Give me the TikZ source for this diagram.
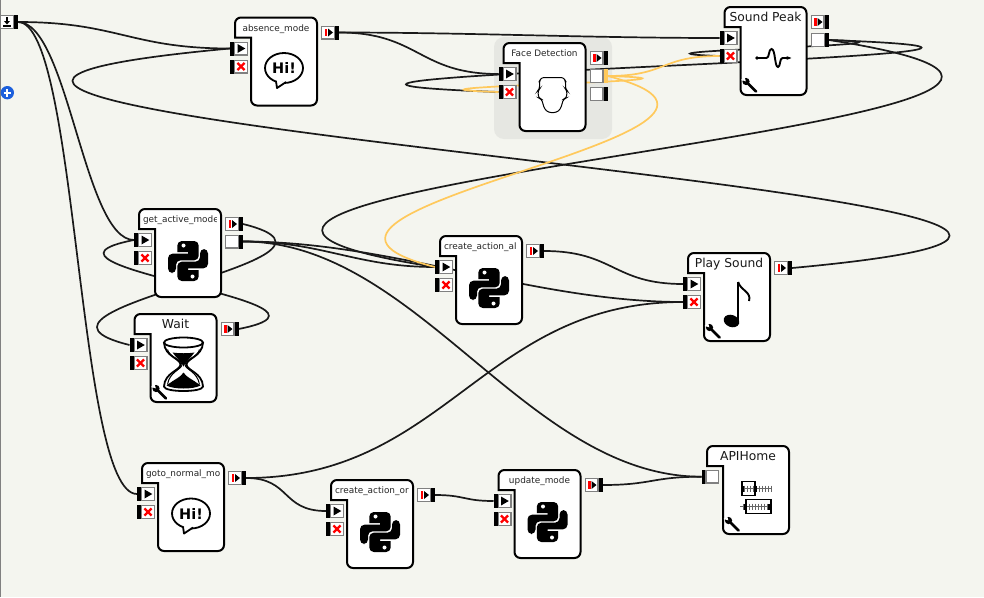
\documentclass[tikz,border=0pt]{standalone}
\usepackage{fontspec}
\setmainfont{DejaVu Sans}
\usetikzlibrary{backgrounds}
\usetikzlibrary{arrows.meta}
\usetikzlibrary{calc}

\definecolor{canvascol}{HTML}{F4F5EF}
\definecolor{groupcol}{HTML}{E6E7E2}
\definecolor{portgrey}{HTML}{808080}
\definecolor{wirecol}{HTML}{1A1A1A}
\definecolor{orangecol}{HTML}{FFC95C}
\definecolor{pluscol}{HTML}{1C5FDC}

\pgfdeclarelayer{wires}
\pgfsetlayers{background,wires,main}

\tikzset{
  wire/.style={draw=wirecol, line width=1.7pt},
  orangewire/.style={draw=orangecol, line width=1.7pt},
  blocline/.style={draw=black, fill=white, line width=2pt},
  smalltitle/.style={font=\fontsize{8.9}{10}\selectfont, text=black!85, text height=7, text depth=2, inner sep=0pt},
  cuttitle/.style={smalltitle, anchor=west, xshift=-37.2pt},
  bigtitle/.style={font=\fontsize{12.3}{14}\selectfont, text=black!90, text height=9, text depth=3, inner sep=0pt},
  barnode/.style={fill=black, minimum width=4, minimum height=14, inner sep=0pt, outer sep=0pt},
  portbox/.style={draw=portgrey, fill=white, line width=1.4pt, minimum size=12.6, inner sep=0pt},
  playglyph/.style={path picture={
    \fill[black] (path picture bounding box.center) ++(-3.5,-4.5) -- ++(7.8,4.5) -- ++(-7.8,4.5) -- cycle;}},
  errglyph/.style={path picture={
    \draw[red, line width=2.4pt] (path picture bounding box.center) ++(-3.6,-3.6) -- ++(7.2,7.2);
    \draw[red, line width=2.4pt] (path picture bounding box.center) ++(-3.6,3.6) -- ++(7.2,-7.2);}},
  outglyph/.style={path picture={
    \fill[red] (path picture bounding box.center) ++(-3.2,-3.6) rectangle ++(2.6,7.2);
    \fill[black] (path picture bounding box.center) ++(0,-4) -- ++(5,4) -- ++(-5,4) -- cycle;}},
  startglyph/.style={path picture={
    \draw[black, line width=1.2pt] (path picture bounding box.center) ++(0,-5) -- ++(0,5);
    \fill[black] (path picture bounding box.center) ++(-3,-1) -- ++(6,0) -- ++(-3,3.5) -- cycle;
    \draw[black, line width=1.4pt] (path picture bounding box.center) ++(-4,4) -- ++(8,0);}},
  hiicon/.pic={
    \draw[black, line width=1.8pt, fill=white] (0,-1.5) ellipse (19 and 15);
    \draw[black, line width=1.8pt, fill=white, line join=round] (-8,11.5) -- (-7,18.5) -- (2,12.5);
    \fill[white] (-7,10.5) -- (-6,14.5) -- (0,10.5) -- cycle;
    \node[font=\bfseries\fontsize{14.5}{16}\selectfont, inner sep=0pt] (-txt) at (0,-1.5) {Hi!};
  },
  pythonicon/.pic={
    \foreach \rot in {0,180} {
      \begin{scope}[rotate=\rot]
        \fill[black] (-10.7,-9) [rounded corners=4.5] -- (-10.7,-20) -- (10.7,-20) -- (10.7,-0.7) -- (-12,-0.7) -- (-12,12) -- (-20,12) -- (-20,-7.3) -- (-2,-7.3) [sharp corners] -- (0,-7.3) -- (0,-9) -- cycle;
        \fill[white] (-4.5,-15.5) circle (2);
      \end{scope}
    }
  },
  hourglassicon/.pic={
    \begin{scope}[shift={(0,-1.5)}]
    \draw[black, line width=1.8pt] (0,-22) ellipse (19.5 and 5);
    \draw[black, line width=1.8pt] (-19.5,-22) .. controls (-19,-8) and (-3,-6) .. (-3,0) .. controls (-3,6) and (-19,8) .. (-19.5,22) .. controls (-19,28) and (19,28) .. (19.5,22) .. controls (19,8) and (3,6) .. (3,0) .. controls (3,-6) and (19,-8) .. (19.5,-22);
    \draw[black, line width=1pt] (-16,-15) .. controls (-14,-7) and (-1.5,-5) .. (-1.5,0) .. controls (-1.5,5) and (-14,7) .. (-16,20);
    \draw[black, line width=1pt] (16,-15) .. controls (14,-7) and (1.5,-5) .. (1.5,0) .. controls (1.5,5) and (14,7) .. (16,20);
    \fill[black] (-11,-12) .. controls (-5,-11) and (5,-11) .. (11,-12) .. controls (7,-6) and (2,-4) .. (0,2) .. controls (-2,-4) and (-7,-6) .. (-11,-12) -- cycle;
    \fill[black] (-17,21) .. controls (-8,14) and (-3,13) .. (0,8) .. controls (3,13) and (8,14) .. (17,21) .. controls (10,25) and (-10,25) .. (-17,21) -- cycle;
    \end{scope}
  },
  noteicon/.pic={
    \fill[black, rotate around={-20:(-5.5,16)}] (-5.5,16) ellipse (8 and 6);
    \draw[black, line width=2.4pt] (1.2,16) -- (1.2,-23);
    \draw[black, line width=1.9pt] (1.2,-23) .. controls (3,-15) and (15,-13) .. (12,-4);
  },
  waveicon/.pic={
    \draw[black, line width=1.9pt, {Circle[length=3pt]}-{Stealth[length=5pt]}] (-18,-1) -- (-7,-1) .. controls (-4,-1) and (-5,-10) .. (-2,-10) .. controls (2,-10) and (1,8) .. (4.5,8) .. controls (7,8) and (6,-1) .. (9,-1) -- (18,-1);
  },
  faceicon/.pic={
    \draw[black, line width=1pt, rounded corners=2.5] (0,-17.5) -- (11,-17.5) -- (13,-14) -- (13,-6) -- (14.5,-4.5) -- (14,3) -- (11,4) -- (8,14) -- (4,17.5) -- (-4,17.5) -- (-8,14) -- (-11,4) -- (-14,3) -- (-14.5,-4.5) -- (-13,-6) -- (-13,-14) -- (-11,-17.5) -- cycle;
  },
  apiicon/.pic={
    \begin{scope}[shift={(0,-1.3)}]
    \draw[black!60, line width=0.8pt] (-14,-8) -- (16,-8);
    \draw[black!60, line width=0.8pt] (-16,10) -- (15,10);
    \foreach \i in {-12,-9,...,15} {
      \draw[black!60, line width=0.7pt] (\i,-11) -- (\i,-5);
      \draw[black!60, line width=0.7pt] (\i-1,7) -- (\i-1,13);
    }
    \draw[black, line width=1.2pt] (-14,-15) rectangle (-1,-1);
    \draw[black, line width=1.2pt] (-10,3) rectangle (15,17);
    \fill[black] (-15,-11) rectangle (-12,-5);
    \fill[black] (-2.5,-11) rectangle (1,-5);
    \fill[black] (12,7) rectangle (16,13);
    \fill[black] (-12,7) rectangle (-9,13);
    \end{scope}
  },
  wrenchicon/.pic={
    \draw[black, line width=2.8pt, line cap=round] (-2,-2) -- (6,6);
    \fill[black] (-4,-4) circle (3.6);
    \fill[white] (-4.2,-4.2) -- (-9,-5.5) -- (-5.5,-9) -- cycle;
  },
}

\begin{document}
\begin{tikzpicture}[x=1pt, y=-1pt]
        \useasboundingbox (0,0) rectangle (984,597);

        % Fond et groupe autour de Face Detection
        \begin{pgfonlayer}{background}
            \fill[canvascol] (0,0) rectangle (984,597);
            \draw[portgrey, line width=1.5pt] (0.4,0) -- (0.4,597);
            \fill[groupcol, rounded corners=10] (494,37) rectangle (612,139);
        \end{pgfonlayer}

        % Bouton bleu
        \node[circle, fill=pluscol, minimum size=13.4, inner sep=0pt] (plus_btn) at (7.3,92.7) {};
        \draw[white, line width=2pt] (plus_btn.center) ++(-3.8,0) -- ++(7.6,0);
        \draw[white, line width=2pt] (plus_btn.center) ++(0,-3.8) -- ++(0,7.6);

        % Port de depart
        \node[portbox, startglyph] (start_box) at (7,22) {};
        \node[barnode] (start_out) at (16,22) {};

        % Blocs
        \foreach \name/\x/\y/\titre/\sty/\icon in {
            absence/235/17.5/absence\_mode/smalltitle/hiicon,
            face/503.5/43/Face Detection/smalltitle/faceicon,
            sound/724.5/7/Sound Peak/bigtitle/waveicon,
            active/139/209/get\_active\_mode/cuttitle/pythonicon,
            wait/134.5/314/Wait/bigtitle/hourglassicon,
            alert/440/236/create\_action\_al/cuttitle/pythonicon,
            play/688/253/Play Sound/bigtitle/noteicon,
            normal/142/463/goto\_normal\_mo/cuttitle/hiicon,
            orange/331/480/create\_action\_or/cuttitle/pythonicon,
            update/498.5/470/update\_mode/smalltitle/pythonicon,
            api/707/446/APIHome/bigtitle/apiicon} {
            \draw[blocline] (\x,\y+20) [rounded corners=6] -- (\x,\y) -- (\x+82,\y) -- (\x+82,\y+88) -- (\x+16,\y+88) [sharp corners] -- (\x+16,\y+20) -- cycle;
            \begin{scope}
                \clip (\x+2,\y+1) rectangle (\x+77.7,\y+19);
                \node[\sty] (\name_title) at (\x+41,\y+11) {\titre};
            \end{scope}
            \pic (\name_icon) at (\x+49,\y+52) {\icon};
        }

        % Cle a molette
        \foreach \name/\x/\y in {sound/724.5/7, wait/134.5/314, play/688/253, api/707/446} {
            \pic (\name_wrench) at (\x+25.5,\y+78.5) {wrenchicon};
        }

        % Ports d'entree et sortie
        \foreach \name/\x/\y in {absence/235/17.5, face/503.5/43, sound/724.5/7, active/139/209, wait/134.5/314, alert/440/236, play/688/253, normal/142/463, orange/331/480, update/498.5/470} {
            \node[barnode] (\name_in) at (\x-3,\y+31) {};
            \node[portbox, playglyph] (\name_inbox) at (\x+6,\y+31) {};
            \node[barnode] (\name_err) at (\x-3,\y+49) {};
            \node[portbox, errglyph] (\name_errbox) at (\x+6,\y+49) {};
            \node[barnode] (\name_out) at (\x+102,\y+15) {};
            \node[portbox, outglyph] (\name_outbox) at (\x+93,\y+15) {};
        }

        % Sorties supplementaires
        \foreach \name/\x/\y/\col in {sound_ret/818/40/black, active_ret/232/241.5/black, face_yes/596.5/76/orangecol, face_no/596.5/94/black} {
            \node[barnode, fill=\col] (\name) at (\x+9,\y) {};
            \node[portbox] (\name_box) at (\x,\y) {};
        }

        % Entree de APIHome
        \node[barnode] (api_in) at (703.5,476.7) {};
        \node[portbox] (api_inbox) at (712.3,476.7) {};

        % Connexions noires (de, vers, longueur, pente)
        \begin{pgfonlayer}{wires}
            \foreach \from/\to/\len/\k in {
                start_out/absence_in/100/0,
                start_out/active_in/50/0,
                start_out/normal_in/60/0,
                absence_out/sound_in/130/0,
                absence_out/face_in/80/0,
                sound_ret/sound_err/135/0.3,
                sound_ret/face_err/420/0.3,
                sound_ret/alert_in/510/0.35,
                play_out/absence_in/715/0.3,
                active_out/wait_in/147/0.3,
                wait_out/active_in/137/0.3,
                active_ret/alert_in/80/0,
                active_ret/play_err/150/0,
                active_ret/api_in/175/0,
                alert_out/play_in/70/0,
                normal_out/play_err/200/0,
                normal_out/orange_in/45/0,
                orange_out/update_in/30/0,
                update_out/api_in/50/0} {
                \draw[wire] let \p1=(\from.east), \p2=(\to.west) in
                    (\p1) .. controls (\x1+\len, \y1+\k*\y2-\k*\y1) and (\x2-\len, \y2-\k*\y2+\k*\y1) .. (\p2);
            }
            % Connexions orange
            \foreach \from/\to/\len/\k in {
                face_yes/sound_err/60/0,
                face_yes/face_err/154/0.3,
                face_yes/alert_in/225/0.3} {
                \draw[orangewire] let \p1=(\from.east), \p2=(\to.west) in
                    (\p1) .. controls (\x1+\len, \y1+\k*\y2-\k*\y1) and (\x2-\len, \y2-\k*\y2+\k*\y1) .. (\p2);
            }
        \end{pgfonlayer}
\end{tikzpicture}
\end{document}
